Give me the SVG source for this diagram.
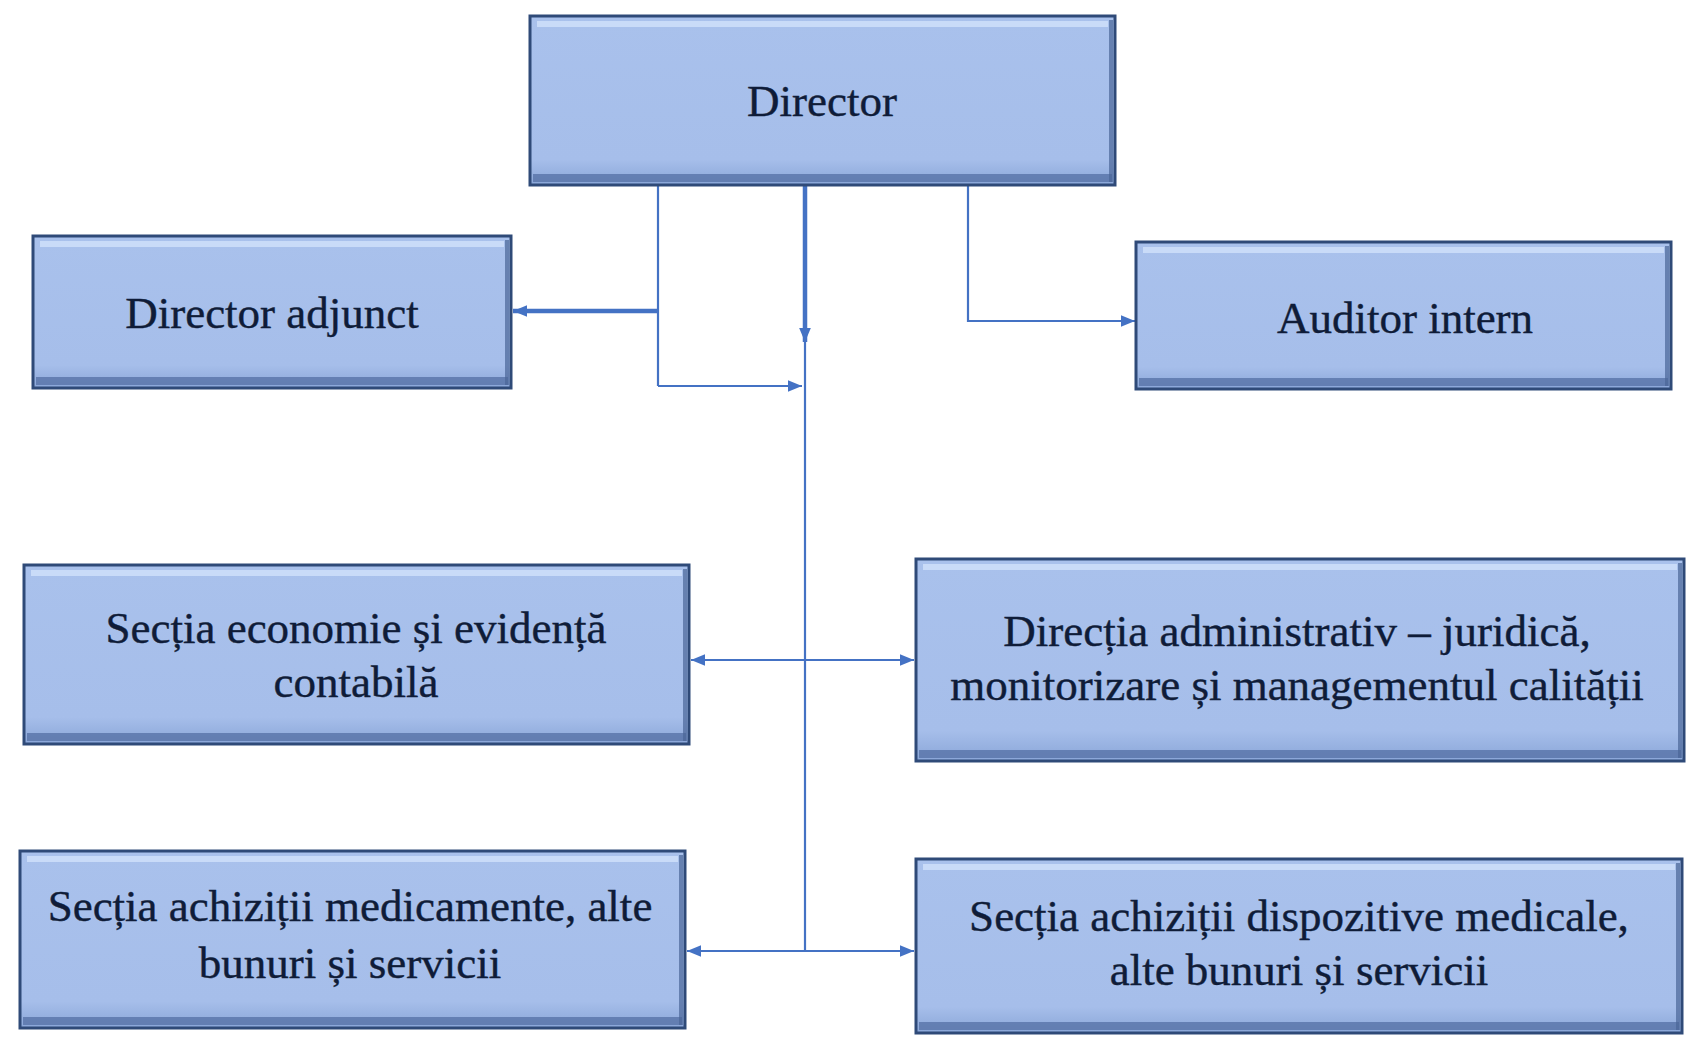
<svg xmlns="http://www.w3.org/2000/svg" width="1705" height="1054" viewBox="0 0 1705 1054">
<style>
.box{fill:url(#bev);stroke:#2f4a78;stroke-width:3}
.hl{fill:none;stroke:#cfdffa;stroke-width:6;stroke-opacity:0.85}
.sh{fill:none;stroke:#5873a8;stroke-width:8;stroke-opacity:0.8}
.rs{fill:none;stroke:#4a6597;stroke-width:4;stroke-opacity:0.7}
.t{font-family:"Liberation Serif","Times New Roman",serif;font-size:45px;fill:#0f1c38;stroke:#0f1c38;stroke-width:0.4;text-anchor:middle}
.c{fill:none;stroke:#4472c4;stroke-width:2.2}
.ck{fill:none;stroke:#4472c4;stroke-width:4.5}
</style>
<defs>
<linearGradient id="bev" x1="0" y1="0" x2="0" y2="1">
<stop offset="0" stop-color="#a9c1ec"/>
<stop offset="0.85" stop-color="#a6beea"/>
<stop offset="1" stop-color="#8aa6d8"/>
</linearGradient>
<marker id="ah" viewBox="0 0 12 10" refX="12" refY="5" markerWidth="14" markerHeight="12" markerUnits="userSpaceOnUse" orient="auto-start-reverse">
<path d="M0,0 L12,5 L0,10 z" fill="#4472c4"/>
</marker>
</defs>
<rect width="1705" height="1054" fill="#ffffff"/>
<g id="connectors">
<path class="ck" d="M805,185 V342" marker-end="url(#ah)"/>
<path class="c" d="M805,334 V951"/>
<path class="c" d="M658,185 V386"/>
<path class="ck" d="M658,311 H513" marker-end="url(#ah)"/>
<path class="c" d="M658,386 H802" marker-end="url(#ah)"/>
<path class="c" d="M968,185 V321 H1135" marker-end="url(#ah)"/>
<path class="c" d="M691,660 H914" marker-start="url(#ah)" marker-end="url(#ah)"/>
<path class="c" d="M687,951 H914" marker-start="url(#ah)" marker-end="url(#ah)"/>
</g>
<g id="director">
<rect class="box" x="530" y="16" width="585" height="169"/>
<path class="hl" d="M537,24 H1108"/>
<path class="sh" d="M533,178 H1112"/>
<path class="rs" d="M1111,20 V182"/>
<text class="t" x="822" y="116">Director</text>
</g>
<g id="director-adjunct">
<rect class="box" x="33" y="236" width="478" height="152"/>
<path class="hl" d="M40,244 H504"/>
<path class="sh" d="M36,381 H508"/>
<path class="rs" d="M507,240 V385"/>
<text class="t" x="272" y="328">Director adjunct</text>
</g>
<g id="auditor-intern">
<rect class="box" x="1136" y="242" width="535" height="147"/>
<path class="hl" d="M1143,250 H1664"/>
<path class="sh" d="M1139,382 H1668"/>
<path class="rs" d="M1667,246 V386"/>
<text class="t" x="1405" y="333">Auditor intern</text>
</g>
<g id="sectia-economie">
<rect class="box" x="24" y="565" width="665" height="179"/>
<path class="hl" d="M31,573 H682"/>
<path class="sh" d="M27,737 H686"/>
<path class="rs" d="M685,569 V741"/>
<text class="t" x="356" y="643">Secția economie și evidență</text>
<text class="t" x="356" y="697">contabilă</text>
</g>
<g id="directia-administrativ">
<rect class="box" x="916" y="559" width="768" height="202"/>
<path class="hl" d="M923,567 H1677"/>
<path class="sh" d="M919,754 H1681"/>
<path class="rs" d="M1680,563 V758"/>
<text class="t" x="1297" y="646">Direcția administrativ – juridică,</text>
<text class="t" x="1297" y="700">monitorizare și managementul calității</text>
</g>
<g id="sectia-medicamente">
<rect class="box" x="20" y="851" width="665" height="177"/>
<path class="hl" d="M27,859 H678"/>
<path class="sh" d="M23,1021 H682"/>
<path class="rs" d="M681,855 V1025"/>
<text class="t" x="350" y="921">Secția achiziții medicamente, alte</text>
<text class="t" x="350" y="978">bunuri și servicii</text>
</g>
<g id="sectia-dispozitive">
<rect class="box" x="916" y="859" width="766" height="174"/>
<path class="hl" d="M923,867 H1675"/>
<path class="sh" d="M919,1026 H1679"/>
<path class="rs" d="M1678,863 V1030"/>
<text class="t" x="1299" y="931">Secția achiziții dispozitive medicale,</text>
<text class="t" x="1299" y="985">alte bunuri și servicii</text>
</g>
</svg>
